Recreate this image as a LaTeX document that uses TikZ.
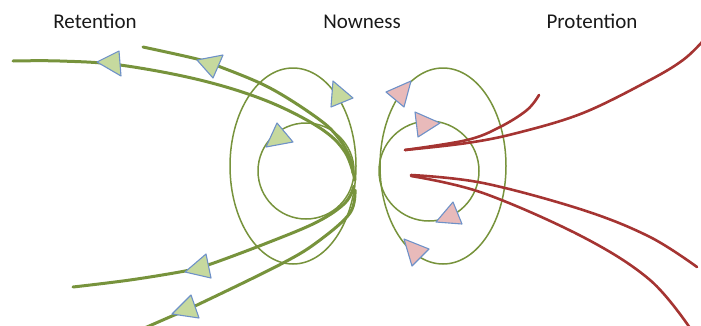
\documentclass[tikz,border=0pt]{standalone}
\usepackage{fontspec}
\setmainfont{Carlito}
\definecolor{lgreen}{RGB}{119,147,60}
\definecolor{tgfill}{RGB}{198,217,158}
\definecolor{tpfill}{RGB}{232,186,186}
\definecolor{tline}{RGB}{110,145,200}
\definecolor{pred}{RGB}{165,52,50}
\definecolor{txt}{RGB}{25,25,25}
\tikzset{
  thinloop/.style={draw=lgreen, line width=1.5pt},
  thickline/.style={draw=lgreen, line width=3pt, line cap=round},
  redline/.style={draw=pred, line width=2.6pt, line cap=round},
  garrow/.style={fill=tgfill, draw=tline, line width=1.1pt, line join=round},
  parrow/.style={fill=tpfill, draw=tline, line width=1.1pt, line join=round},
  label/.style={font=\fontsize{21}{25}\selectfont, text=txt, anchor=base, inner sep=0pt}
}
\begin{document}
\begin{tikzpicture}[x=1pt,y=-1pt]
\useasboundingbox (0,0) rectangle (701,325);
% labels
\node[label] (ret) at (95,28) {Retention};
\node[label] (now) at (362,28) {Nowness};
\node[label] (pro) at (592,28) {Protention};
% thin loops
\draw[thinloop] (293,166) ellipse [x radius=63, y radius=98];
\draw[thinloop] (306,171) circle [radius=48];
\draw[thinloop] (443,166) ellipse [x radius=63, y radius=98];
\draw[thinloop] (429,171) circle [radius=50];
% thick green lines (retention)
\draw[thickline] plot[smooth, tension=0.6] coordinates {(355,180) (345,152) (320,128) (267,101) (200,80) (120,65) (60,61) (13,61)};
\draw[thickline] plot[smooth, tension=0.6] coordinates {(353,173) (350,158) (340,140) (320,120) (270,88) (218,66) (197,59) (143,47)};
\draw[thickline] plot[smooth, tension=0.6] coordinates {(354,186) (345,203) (317,222) (267,243) (208,265) (185,271) (130,280) (73,287)};
\draw[thickline] plot[smooth, tension=0.6] coordinates {(355,190) (350,213) (320,240) (283,263) (195,306) (172,316) (140,330)};
% red lines (protention)
\draw[redline] plot[smooth, tension=0.6] coordinates {(405,150) (467,140) (500,127) (527,110) (539,95)};
\draw[redline] plot[smooth, tension=0.6] coordinates {(405,150) (467,143) (517,133) (583,113) (650,80) (683,60) (702,42)};
\draw[redline] plot[smooth, tension=0.6] coordinates {(411,175) (483,183) (583,210) (650,237) (697,267)};
\draw[redline] plot[smooth, tension=0.6] coordinates {(411,176) (483,193) (583,237) (650,280) (690,328)};
% green arrowheads
\draw[garrow] (97,62) -- (119,51) -- (121,76) -- cycle;
\draw[garrow] (197,60) -- (223,55) -- (213,78) -- cycle;
\draw[garrow] (333,81) -- (353,98) -- (331,107) -- cycle;
\draw[garrow] (277,123) -- (293,142) -- (266,147) -- cycle;
\draw[garrow] (185,272) -- (206,254) -- (211,278) -- cycle;
\draw[garrow] (172,314) -- (191,295) -- (199,318) -- cycle;
% pink arrowheads
\draw[parrow] (386,92) -- (411,81) -- (404,107) -- cycle;
\draw[parrow] (415,112) -- (440,123) -- (418,137) -- cycle;
\draw[parrow] (453,202) -- (462,224) -- (436,222) -- cycle;
\draw[parrow] (404,239) -- (429,249) -- (412,266) -- cycle;
\end{tikzpicture}
\end{document}
